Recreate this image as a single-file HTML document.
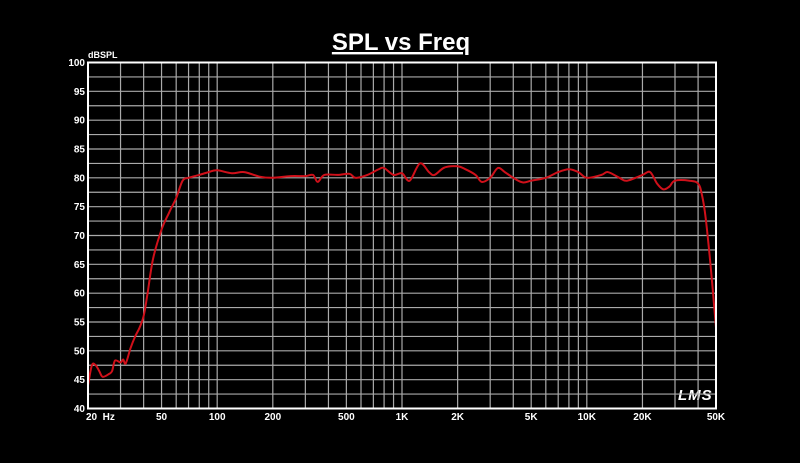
<!DOCTYPE html>
<html><head><meta charset="utf-8"><style>
html,body{margin:0;padding:0;background:#000;width:800px;height:463px;overflow:hidden}
svg{display:block}
text{font-family:"Liberation Sans",Arial,sans-serif;fill:#fff;font-weight:bold}
</style></head><body>
<svg id="s" width="800" height="463" xmlns="http://www.w3.org/2000/svg">
<text x="401" y="50" font-size="24" text-anchor="middle" text-decoration="underline">SPL vs Freq</text>
<text x="88" y="58" font-size="9" font-weight="normal">dBSPL</text>
<text x="678" y="400" font-size="15" font-style="italic" font-weight="normal" font-family="Liberation Serif" letter-spacing="1">LMS</text>
<g id="grid"></g><g id="lbl"></g>
<path id="curve" fill="none" stroke="#d0101a" stroke-width="2" stroke-linejoin="round"/>
<rect x="88" y="62.5" width="628" height="346" fill="none" stroke="#fff" stroke-width="2"/>
</svg>
<script>
var L=88,R=716,T=62.5,B=408.5;
function X(f){return L+(R-L)*Math.log10(f/20)/Math.log10(2500);}
function Y(d){return B-(B-T)*(d-40)/60;}
var g='',l='';
var decs=[10,100,1000,10000];
for(var d of decs){for(var k=1;k<10;k++){var f=d*k;if(f<20||f>50000)continue;var x=X(f);
g+='<line x1="'+x+'" y1="'+T+'" x2="'+x+'" y2="'+B+'" stroke="#aaa" stroke-width="1.2"/>';}}
for(var v=40;v<=100;v+=2.5){var y=Y(v);g+='<line x1="'+L+'" y1="'+y+'" x2="'+R+'" y2="'+y+'" stroke="#aaa" stroke-width="1.2"/>';
if(v%5==0)l+='<text x="85" y="'+(y+3.5)+'" font-size="10" text-anchor="end">'+v+'</text>';}
var xl=[[20,'20  Hz'],[50,'50'],[100,'100'],[200,'200'],[500,'500'],[1000,'1K'],[2000,'2K'],[5000,'5K'],[10000,'10K'],[20000,'20K'],[50000,'50K']];
for(var p of xl){var x=X(p[0]);var a='middle';if(p[0]==20){a='start';x=86;}
l+='<text x="'+x+'" y="420" font-size="10" text-anchor="'+a+'" xml:space="preserve">'+p[1]+'</text>';}
document.getElementById('grid').innerHTML=g;document.getElementById('lbl').innerHTML=l;
var pts=[[20,44],[21,47.5],[22,47.5],[23,46.5],[24,45.5],[26,46],[27,46.5],[28,48.3],[30,48],[31,48.5],[32,47.8],[34,50.5],[36,52.5],[38,54],[40,56],[42,60],[45,66],[50,71],[55,74],[60,76.5],[65,79.5],[70,80],[80,80.5],[90,81],[100,81.3],[120,80.8],[140,81],[170,80.2],[200,80],[250,80.3],[300,80.3],[330,80.5],[350,79.3],[380,80.5],[450,80.5],[520,80.7],[560,80],[650,80.5],[750,81.5],[800,81.7],[900,80.5],[1000,80.8],[1100,79.5],[1250,82.5],[1400,81],[1500,80.5],[1700,81.8],[2000,82],[2200,81.5],[2500,80.5],[2700,79.3],[3000,80],[3300,81.7],[3600,81],[4000,80],[4500,79.2],[5000,79.5],[6000,80],[7000,81],[8000,81.5],[9000,81],[10000,80],[12000,80.5],[13000,81],[15000,80],[16500,79.5],[20000,80.5],[22000,81],[24000,79],[26000,78],[28000,78.5],[30000,79.5],[36000,79.5],[40000,79],[42000,77],[44000,73],[47000,64],[50000,54]];
var P=pts.map(function(p){return [X(p[0]),Y(p[1])];});
var dd='M'+P[0][0].toFixed(1)+' '+P[0][1].toFixed(1);
for(var i=0;i<P.length-1;i++){var p0=P[i-1]||P[i],p1=P[i],p2=P[i+1],p3=P[i+2]||p2;
var c1x=p1[0]+(p2[0]-p0[0])/6,c1y=p1[1]+(p2[1]-p0[1])/6,c2x=p2[0]-(p3[0]-p1[0])/6,c2y=p2[1]-(p3[1]-p1[1])/6;
dd+='C'+c1x.toFixed(1)+' '+c1y.toFixed(1)+' '+c2x.toFixed(1)+' '+c2y.toFixed(1)+' '+p2[0].toFixed(1)+' '+p2[1].toFixed(1);}
document.getElementById('curve').setAttribute('d',dd);
</script>
</body></html>
